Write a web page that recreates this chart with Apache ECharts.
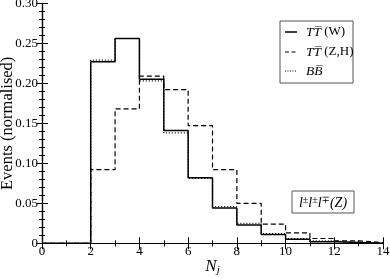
<!DOCTYPE html>
<html><head><meta charset="utf-8">
<script src="https://cdn.jsdelivr.net/npm/echarts@6/dist/echarts.min.js"></script>
<style>html,body{margin:0;padding:0;background:#fff}#c{width:390px;height:278px}</style>
</head><body><div id="c"></div>
<script>
const binEdges = [0,2,3,4,5,6,7,8,9,10,11,12,13,14];
const seriesW  = [0,0.227,0.256,0.205,0.141,0.082,0.044,0.023,0.011,0.005,0.002,0.001,0.000,0.000];
const seriesZH = [0,0.092,0.168,0.209,0.192,0.147,0.092,0.050,0.024,0.013,0.006,0.003,0.001,0.001];
const seriesBB = [0,0.229,0.256,0.203,0.138,0.081,0.046,0.025,0.012,0.006,0.003,0.001,0.000,0.000];
const names = ['TT\u0305 (W)','TT\u0305 (Z,H)','BB\u0305'];
const yTicks = [0,0.05,0.10,0.15,0.20,0.25,0.30];

function pts(v){ return binEdges.map((x,i)=>[x,v[i]]); }
const serif = '"Liberation Serif","DejaVu Serif",serif';
const chart = echarts.init(document.getElementById('c'));
const aLine = {lineStyle:{color:'#000',width:1.2}};
const aTick = {inside:true,length:6,lineStyle:{color:'#000',width:1}};
chart.setOption({
  animation:false,
  grid:{left:42,right:7,top:3.3,bottom:34.7,outerBoundsMode:'none',containLabel:false},
  xAxis:[
    {type:'value',min:0,max:14,interval:2,position:'bottom',
      axisLine:aLine,axisTick:aTick,splitLine:{show:false},
      axisLabel:{color:'#000',fontFamily:serif,fontSize:13,margin:2},
      name:'{i|N}{s|j}',nameLocation:'middle',nameGap:14,nameMoveOverlap:false,
      nameTextStyle:{rich:{i:{fontFamily:serif,fontStyle:'italic',fontSize:17,lineHeight:18,color:'#000'},
                           s:{fontFamily:serif,fontStyle:'italic',fontSize:11,lineHeight:11,verticalAlign:'bottom',color:'#000'}}},
      minorTick:{show:true,splitNumber:2,length:3,lineStyle:{color:'#000'}}},
    {type:'value',min:0,max:14,interval:2,position:'top',axisLabel:{show:false},
      axisLine:aLine,axisTick:aTick,splitLine:{show:false},
      minorTick:{show:true,splitNumber:2,length:3,lineStyle:{color:'#000'}}}
  ],
  yAxis:[
    {type:'value',min:0,max:0.30,interval:0.05,position:'left',
      axisLine:aLine,axisTick:aTick,splitLine:{show:false},
      axisLabel:{color:'#000',fontFamily:serif,fontSize:13,margin:4,
        formatter:v=>{const t=yTicks.find(k=>Math.abs(k-v)<1e-9);return t===0?'0':t.toFixed(2);}},
      name:'Events (normalised)',nameLocation:'middle',nameGap:26,nameMoveOverlap:false,
      nameTextStyle:{fontFamily:serif,fontSize:16.5,color:'#000'},
      minorTick:{show:true,splitNumber:5,length:3,lineStyle:{color:'#000'}}},
    {type:'value',min:0,max:0.30,interval:0.05,position:'right',axisLabel:{show:false},
      axisLine:aLine,axisTick:aTick,splitLine:{show:false},
      minorTick:{show:true,splitNumber:5,length:3,lineStyle:{color:'#000'}}}
  ],
  series:[
    {name:names[0],type:'line',step:'end',symbol:'none',data:pts(seriesW),lineStyle:{color:'#000',width:1.5},z:3},
    {name:names[1],type:'line',step:'end',symbol:'none',data:pts(seriesZH),lineStyle:{color:'#000',width:1.2,type:[5,3]},z:2},
    {name:names[2],type:'line',step:'end',symbol:'none',data:pts(seriesBB),lineStyle:{color:'#000',width:1.2,type:[1,2]},z:1}
  ],
  graphic:[
    {type:'rect',shape:{x:280,y:21,width:73,height:62},style:{fill:'#fff',stroke:'#555',lineWidth:1},z:10},
    {type:'line',shape:{x1:285,y1:32,x2:297,y2:32},style:{stroke:'#000',lineWidth:1.5},z:11},
    {type:'line',shape:{x1:285,y1:52,x2:298,y2:52},style:{stroke:'#000',lineWidth:1.2,lineDash:[4,2.5]},z:11},
    {type:'line',shape:{x1:285,y1:71,x2:297,y2:71},style:{stroke:'#000',lineWidth:1,lineDash:[1,1.5]},z:11},
    {type:'text',x:306,y:32,style:{text:'{i|TT\u0305}{r| (W)}',verticalAlign:'middle',rich:{i:{fontFamily:serif,fontStyle:'italic',fontSize:13.5},r:{fontFamily:serif,fontSize:13}}},z:11},
    {type:'text',x:306,y:52,style:{text:'{i|TT\u0305}{r| (Z,H)}',verticalAlign:'middle',rich:{i:{fontFamily:serif,fontStyle:'italic',fontSize:13.5},r:{fontFamily:serif,fontSize:13}}},z:11},
    {type:'text',x:306,y:71,style:{text:'{i|BB\u0305}',verticalAlign:'middle',rich:{i:{fontFamily:serif,fontStyle:'italic',fontSize:13.5}}},z:11},
    {type:'rect',shape:{x:292,y:191,width:62,height:22},style:{fill:'#fff',stroke:'#555',lineWidth:1},z:10},
    {type:'text',x:323,y:203,style:{text:'{i|l}{s|\u00b1}{i|l}{s|\u00b1}{i|l}{s|\u2213}{i|(Z)}',align:'center',verticalAlign:'middle',
      rich:{i:{fontFamily:serif,fontStyle:'italic',fontSize:14},s:{fontFamily:serif,fontSize:10,padding:[0,0,6,0]}}},z:11}
  ]
});
</script></body></html>
